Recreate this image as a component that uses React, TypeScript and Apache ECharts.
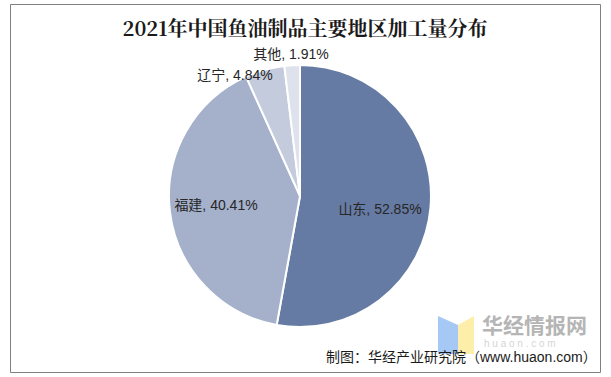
import React, { useEffect, useRef } from "react";
import * as echarts from "echarts";

const titleText = "2021年中国鱼油制品主要地区加工量分布";
const sourceText = "制图：华经产业研究院（www.huaon.com）";
const regions = ["山东", "福建", "辽宁", "其他"];
const shares = [52.85, 40.41, 4.84, 1.91];
const sliceColors = ["#667ba3", "#a5b1cb", "#c3cbdc", "#dde2ec"];
const labelCenters = [[380, 209], [216, 205], [235, 75], [291, 54]];

export default function App() {
  const ref = useRef<HTMLDivElement>(null);
  useEffect(() => {
    const chart = echarts.init(ref.current!, undefined, { renderer: "svg" });
    chart.setOption({
      animation: false,
      backgroundColor: "#ffffff",
      title: {
        text: titleText,
        left: 300,
        top: 12,
        textAlign: "center",
        textStyle: { fontFamily: "'Noto Serif CJK SC','Noto Sans CJK SC',serif", fontSize: 20, fontWeight: "bold", color: "#1a1a1a" },
      },
      graphic: [
        { type: "rect", z: 0, shape: { x: 10.5, y: 4.5, width: 590, height: 368 }, style: { fill: "#fff", stroke: "#808080", lineWidth: 1 } },
        { type: "polygon", z: 10, shape: { points: [[438, 316], [458, 325], [458, 354], [438, 354]] }, style: { fill: "#a6c8f5" } },
        { type: "polygon", z: 10, shape: { points: [[458, 325], [474, 316], [474, 354], [458, 354]] }, style: { fill: "#fdeeaa" } },
        { type: "text", z: 10, style: { text: "华经情报网", x: 482, y: 315, fill: "#b5b5b5", font: "bold 21px 'Liberation Sans','Noto Sans CJK SC'" } },
        { type: "text", z: 10, style: { text: "h u a o n . c o m", x: 484, y: 338, fill: "#d5d5d5", font: "10px 'Liberation Sans'" } },
        { type: "text", z: 11, style: { text: sourceText, x: 326, y: 350, fill: "#1a1a1a", font: "14px 'Liberation Sans','Noto Sans CJK SC'" } },
      ],
      series: [
        {
          type: "pie",
          center: [300, 196],
          radius: [0, 131],
          startAngle: 90,
          clockwise: true,
          silent: true,
          itemStyle: { borderColor: "#fff", borderWidth: 2 },
          label: {
            show: true,
            position: "inside",
            formatter: (p: any) => `${p.name}, ${shares[p.dataIndex].toFixed(2)}%`,
            color: "#262626",
            fontSize: 14,
            fontFamily: "'Liberation Sans','Noto Sans CJK SC',sans-serif",
          },
          labelLine: { show: false },
          labelLayout: (p: any) => ({
            x: labelCenters[p.dataIndex][0],
            y: labelCenters[p.dataIndex][1],
            align: "center",
            verticalAlign: "middle",
          }),
          data: regions.map((name, i) => ({ name, value: shares[i], itemStyle: { color: sliceColors[i] } })),
        },
      ],
    });
    return () => chart.dispose();
  }, []);
  return <div ref={ref} style={{ position: "fixed", left: 0, top: 0, width: 611, height: 377 }} />;
}
